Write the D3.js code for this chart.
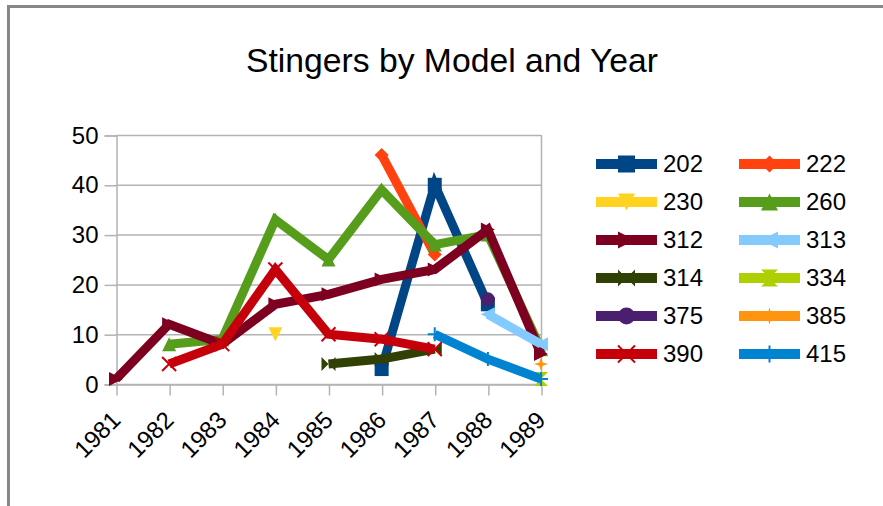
<!DOCTYPE html>
<html>
<head>
<meta charset="utf-8">
<script src="https://cdn.jsdelivr.net/npm/d3@7"></script>
<style>
  html, body { margin: 0; padding: 0; background: #fff; }
  svg { display: block; font-family: "Liberation Sans", Arial, sans-serif; }
</style>
</head>
<body>
<svg id="chart" width="883" height="506"></svg>
<script>
// ---- Data ----
const chartTitle = "Stingers by Model and Year";
const years = ["1981", "1982", "1983", "1984", "1985", "1986", "1987", "1988", "1989"];
const yTicks = [0, 10, 20, 30, 40, 50];
const seriesNames = ["202", "222", "230", "260", "312", "313", "314", "334", "375", "385", "390", "415"];
const s202 = [null, null, null, null, null, 3, 40, 16, null];
const s222 = [null, null, null, null, null, 46, 26, null, null];
const s230 = [null, null, null, 10, null, null, null, null, null];
const s260 = [null, 8, 9, 33, 25, 39, 28, 30, 7];
const s312 = [1, 12, 8, 16, 18, 21, 23, 31, 6];
const s313 = [null, null, null, null, null, null, null, 14, 8];
const s314 = [null, null, null, null, 4, 5, 7, null, null];
const s334 = [null, null, null, null, null, null, null, null, 1];
const s375 = [null, null, null, null, null, null, null, 17, null];
const s385 = [null, null, null, null, null, null, null, null, 4];
const s390 = [null, 4, 8, 23, 10, 9, 7, null, null];
const s415 = [null, null, null, null, null, null, 10, 5, 1];
const seriesValues = [s202, s222, s230, s260, s312, s313, s314, s334, s375, s385, s390, s415];
const seriesColors = ["#004586", "#ff420e", "#ffd320", "#579d1c", "#7e0021", "#83caff",
                      "#314004", "#aecf00", "#4b1f6f", "#ff950e", "#c5000b", "#0084d1"];
const seriesMarkers = ["square", "diamond", "down", "up", "right", "left",
                       "bowtie", "hourglass", "circle", "star", "x", "plus"];

// ---- Layout ----
const svg = d3.select("#chart");
const plot = { left: 116, right: 541, top: 135, bottom: 384 };
const x = d3.scalePoint().domain(years).range([plot.left, plot.right]);
const y = d3.scaleLinear().domain([0, 50]).range([plot.bottom, plot.top]);
const gridColor = "#b3b3b3";

// outer border
svg.append("rect").attr("x", 8.5).attr("y", 6.5).attr("width", 1000).attr("height", 1000)
  .attr("fill", "none").attr("stroke", "#878787").attr("stroke-width", 3);

// title
svg.append("text").attr("x", 452).attr("y", 72).attr("text-anchor", "middle")
  .attr("font-size", 33.7).attr("fill", "#000").text(chartTitle);

// gridlines
svg.append("g").selectAll("line").data(yTicks).join("line")
  .attr("x1", plot.left).attr("x2", plot.right)
  .attr("y1", d => y(d) + 0.5).attr("y2", d => y(d) + 0.5)
  .attr("stroke", gridColor).attr("stroke-width", 1.5);
// right border of plot
svg.append("line").attr("x1", plot.right + 0.5).attr("x2", plot.right + 0.5)
  .attr("y1", plot.top).attr("y2", plot.bottom)
  .attr("stroke", gridColor).attr("stroke-width", 1.5);

// y axis
const yAxis = svg.append("g").attr("transform", `translate(${plot.left + 0.5},0.5)`)
  .call(d3.axisLeft(y).tickValues(yTicks).tickSize(12).tickPadding(6).tickFormat(d3.format("d")));
yAxis.select(".domain").attr("stroke", gridColor).attr("stroke-width", 1.5);
yAxis.selectAll(".tick line").attr("stroke", gridColor).attr("stroke-width", 1.5);
yAxis.selectAll(".tick text").attr("font-size", 24).attr("fill", "#000")
  .attr("font-family", "Liberation Sans, Arial, sans-serif");

// x axis
const xAxis = svg.append("g").attr("transform", `translate(0.5,${plot.bottom + 0.5})`)
  .call(d3.axisBottom(x).tickSize(11).tickSizeOuter(0));
xAxis.select(".domain").attr("stroke", gridColor).attr("stroke-width", 1.5);
xAxis.selectAll(".tick line").attr("stroke", gridColor).attr("stroke-width", 1.5);
xAxis.selectAll(".tick text")
  .attr("font-size", 24).attr("fill", "#000")
  .attr("font-family", "Liberation Sans, Arial, sans-serif")
  .attr("text-anchor", "end")
  .attr("dy", null).attr("y", null)
  .attr("transform", "translate(5,37) rotate(-45)");

// marker path generator (centered at 0,0, size s)
function markerPath(type, s) {
  const h = s / 2;
  switch (type) {
    case "square": return `M${-h},${-h}H${h}V${h}H${-h}Z`;
    case "diamond": return `M0,${-h}L${h},0L0,${h}L${-h},0Z`;
    case "down": return `M${-h},${-h}H${h}L0,${h}Z`;
    case "up": return `M${-h},${h}H${h}L0,${-h}Z`;
    case "right": return `M${-h},${-h}L${h},0L${-h},${h}Z`;
    case "left": return `M${h},${-h}L${-h},0L${h},${h}Z`;
    case "bowtie": return `M${-h},${-h}L0,0L${-h},${h}ZM${h},${-h}L0,0L${h},${h}Z`;
    case "hourglass": return `M${-h},${-h}H${h}L0,0ZM${-h},${h}H${h}L0,0Z`;
    case "circle": return `M${-h},0A${h},${h} 0 1,0 ${h},0A${h},${h} 0 1,0 ${-h},0Z`;
    case "star": {
      const k = s * 0.12;
      return `M0,${-h}L${k},${-k}L${h},0L${k},${k}L0,${h}L${-k},${k}L${-h},0L${-k},${-k}Z`;
    }
    case "x": return `M${-h},${-h}L${h},${h}M${h},${-h}L${-h},${h}`;
    case "plus": return `M0,${-h}V${h}M${-h},0H${h}`;
  }
}
const strokeOnly = t => t === "x" || t === "plus";

// series lines and markers
const line = d3.line().defined(d => d.v != null).x(d => x(d.yr)).y(d => y(d.v));
seriesNames.forEach((name, i) => {
  const pts = years.map((yr, j) => ({ yr, v: seriesValues[i][j] }));
  const g = svg.append("g");
  g.append("path").datum(pts).attr("d", line)
    .attr("fill", "none").attr("stroke", seriesColors[i]).attr("stroke-width", 9)
    .attr("stroke-linejoin", "miter").attr("stroke-miterlimit", 4);
  g.selectAll("path.m").data(pts.filter(d => d.v != null)).join("path")
    .attr("class", "m")
    .attr("transform", d => `translate(${x(d.yr)},${y(d.v)})`)
    .attr("d", markerPath(seriesMarkers[i], 14))
    .attr("fill", strokeOnly(seriesMarkers[i]) ? "none" : seriesColors[i])
    .attr("stroke", strokeOnly(seriesMarkers[i]) ? seriesColors[i] : "none")
    .attr("stroke-width", 2);
});

// legend
const legend = svg.append("g");
seriesNames.forEach((name, i) => {
  const col = i % 2, row = Math.floor(i / 2);
  const x0 = col === 0 ? 596 : 739;
  const cy = 164 + row * 38;
  const g = legend.append("g");
  g.append("line").attr("x1", x0).attr("x2", x0 + 61).attr("y1", cy).attr("y2", cy)
    .attr("stroke", seriesColors[i]).attr("stroke-width", 10);
  g.append("path").attr("transform", `translate(${x0 + 30.5},${cy})`)
    .attr("d", markerPath(seriesMarkers[i], 17))
    .attr("fill", strokeOnly(seriesMarkers[i]) ? "none" : seriesColors[i])
    .attr("stroke", strokeOnly(seriesMarkers[i]) ? seriesColors[i] : "none")
    .attr("stroke-width", 2);
  g.append("text").attr("x", x0 + 67).attr("y", cy).attr("dy", "0.35em")
    .attr("font-size", 24).attr("fill", "#000").text(name);
});
</script>
</body>
</html>
